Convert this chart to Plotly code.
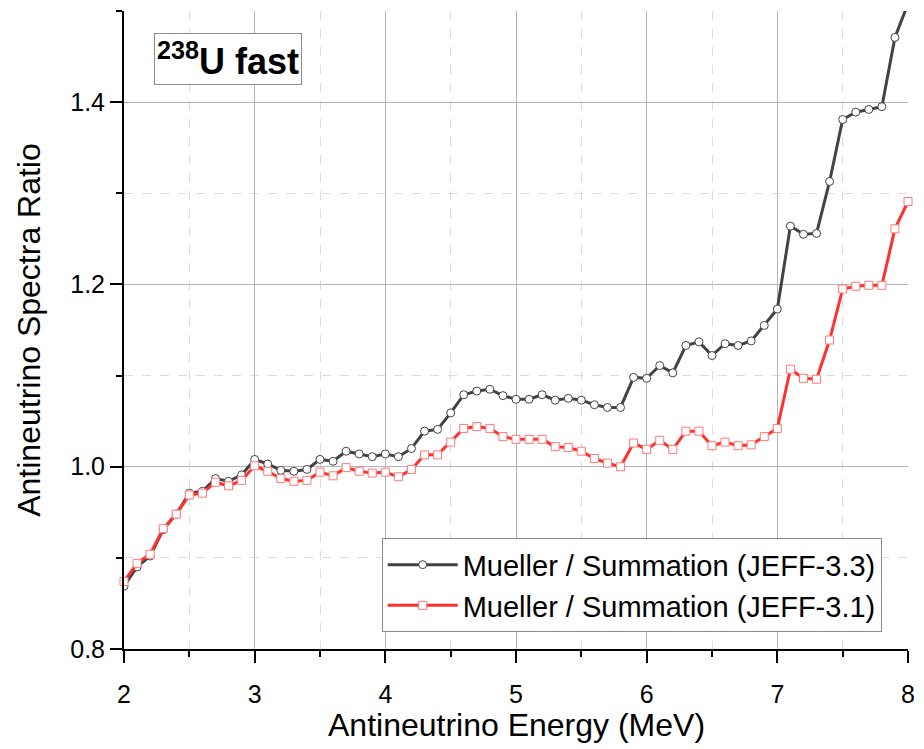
import plotly.graph_objects as go

energy = [2.0, 2.1, 2.2, 2.3, 2.4, 2.5, 2.6, 2.7, 2.8, 2.9,
          3.0, 3.1, 3.2, 3.3, 3.4, 3.5, 3.6, 3.7, 3.8, 3.9,
          4.0, 4.1, 4.2, 4.3, 4.4, 4.5, 4.6, 4.7, 4.8, 4.9,
          5.0, 5.1, 5.2, 5.3, 5.4, 5.5, 5.6, 5.7, 5.8, 5.9,
          6.0, 6.1, 6.2, 6.3, 6.4, 6.5, 6.6, 6.7, 6.8, 6.9,
          7.0, 7.1, 7.2, 7.3, 7.4, 7.5, 7.6, 7.7, 7.8, 7.9, 8.0]

ratio_jeff33 = [0.869, 0.890, 0.902, 0.931, 0.948, 0.971, 0.973, 0.987, 0.984, 0.991,
                1.008, 1.003, 0.996, 0.995, 0.997, 1.008, 1.006, 1.017, 1.014, 1.011,
                1.014, 1.011, 1.020, 1.039, 1.041, 1.059, 1.079, 1.083, 1.085, 1.078,
                1.074, 1.074, 1.079, 1.073, 1.075, 1.073, 1.068, 1.065, 1.065, 1.098,
                1.097, 1.111, 1.103, 1.133, 1.137, 1.122, 1.135, 1.133, 1.138, 1.155,
                1.173, 1.264, 1.255, 1.256, 1.313, 1.381, 1.389, 1.392, 1.395, 1.471, 1.508]

ratio_jeff31 = [0.874, 0.894, 0.904, 0.932, 0.948, 0.969, 0.971, 0.983, 0.979, 0.985,
                1.001, 0.995, 0.987, 0.984, 0.985, 0.994, 0.990, 0.999, 0.995, 0.993,
                0.994, 0.989, 0.997, 1.013, 1.013, 1.027, 1.042, 1.044, 1.042, 1.033,
                1.030, 1.030, 1.030, 1.022, 1.021, 1.017, 1.009, 1.004, 1.000, 1.026,
                1.019, 1.029, 1.019, 1.039, 1.039, 1.023, 1.027, 1.023, 1.024, 1.033,
                1.042, 1.107, 1.097, 1.096, 1.139, 1.195, 1.198, 1.199, 1.199, 1.261, 1.291]

name33 = "Mueller / Summation (JEFF-3.3)"
name31 = "Mueller / Summation (JEFF-3.1)"
y_ticks = [0.8, 1.0, 1.2, 1.4]
x_ticks = [2, 3, 4, 5, 6, 7, 8]

FONT = "Liberation Sans, Arial, sans-serif"

fig = go.Figure()
fig.add_trace(go.Scatter(
    x=energy, y=ratio_jeff33, name=name33, mode="lines+markers",
    line=dict(color="#434343", width=3),
    marker=dict(symbol="circle", size=8, color="white",
                line=dict(color="#434343", width=1)),
    cliponaxis=True,
))
fig.add_trace(go.Scatter(
    x=energy, y=ratio_jeff31, name=name31, mode="lines+markers",
    line=dict(color="#ff3030", width=3),
    marker=dict(symbol="square", size=8, color="white",
                line=dict(color="#ff7a7a", width=1)),
    cliponaxis=False,
))

axis_common = dict(showline=True, linecolor="black", linewidth=2,
                   tickcolor="black", tickwidth=2, ticklen=12, zeroline=False,
                   tickfont=dict(family=FONT, size=25, color="black"))

fig.update_layout(
    width=924, height=749,
    margin=dict(l=124, r=9, t=11, b=100),
    paper_bgcolor="white", plot_bgcolor="white",
    font=dict(family=FONT, color="black"),
    xaxis=dict(
        range=[2, 8], tickvals=x_ticks, ticktext=[str(v) for v in x_ticks],
        ticks="outside", showgrid=True, gridcolor="#b4b4b4", gridwidth=1,
        ticklabelstandoff=10,
        minor=dict(dtick=0.5, tick0=2, ticks="outside", ticklen=6, tickwidth=2,
                   tickcolor="black", showgrid=True, gridcolor="#dcdcdc",
                   griddash="dash", gridwidth=1),
        **axis_common,
    ),
    yaxis=dict(
        range=[0.8, 1.5], tickvals=y_ticks, ticktext=[f"{v:.1f}" for v in y_ticks],
        ticks="outside", showgrid=True, gridcolor="#b4b4b4", gridwidth=1,
        minor=dict(dtick=0.1, tick0=0.8, ticks="outside", ticklen=6, tickwidth=2,
                   tickcolor="black", showgrid=True, gridcolor="#dcdcdc",
                   griddash="dash", gridwidth=1),
        title=dict(text="Antineutrino Spectra Ratio", font=dict(family=FONT, size=32),
                   standoff=20),
        **axis_common,
    ),
    xaxis2=dict(
        overlaying="x", side="top", anchor="y", range=[2, 8], tickvals=x_ticks,
        ticks="inside", ticklen=12, tickwidth=2, tickcolor="black",
        showticklabels=False, showgrid=False, showline=True, linecolor="black",
        linewidth=2, zeroline=False,
        minor=dict(dtick=0.5, tick0=2, ticks="inside", ticklen=6, tickwidth=2,
                   tickcolor="black", showgrid=False),
    ),
    yaxis2=dict(
        overlaying="y", side="right", anchor="x", range=[0.8, 1.5], tickvals=y_ticks,
        ticks="inside", ticklen=12, tickwidth=2, tickcolor="black",
        showticklabels=False, showgrid=False, showline=True, linecolor="black",
        linewidth=2, zeroline=False,
        minor=dict(dtick=0.1, tick0=0.8, ticks="inside", ticklen=6, tickwidth=2,
                   tickcolor="black", showgrid=False),
    ),
    legend=dict(
        x=0.3287, y=0.1735, xanchor="left", yanchor="top",
        bgcolor="white", bordercolor="#8a8a8a", borderwidth=1,
        font=dict(family=FONT, size=29, color="black"),
        itemwidth=70, tracegroupgap=0,
        entrywidth=496, entrywidthmode="pixels",
    ),
    showlegend=True,
)

# x-axis title placed as a paper annotation so it sits below the tick labels
fig.add_annotation(
    x=0.5, y=-0.1191, xref="paper", yref="paper",
    xanchor="center", yanchor="middle", showarrow=False,
    text="Antineutrino Energy (MeV)",
    font=dict(family=FONT, size=32, color="black"),
)

fig.add_annotation(
    x=0.1327, y=0.9248, xref="paper", yref="paper",
    xanchor="center", yanchor="middle", showarrow=False,
    text="<b><sup>238</sup>U fast</b>",
    font=dict(family=FONT, size=36, color="black"),
    bordercolor="#8a8a8a", borderwidth=1, borderpad=2, bgcolor="white",
)

fig.write_html("out.html")
